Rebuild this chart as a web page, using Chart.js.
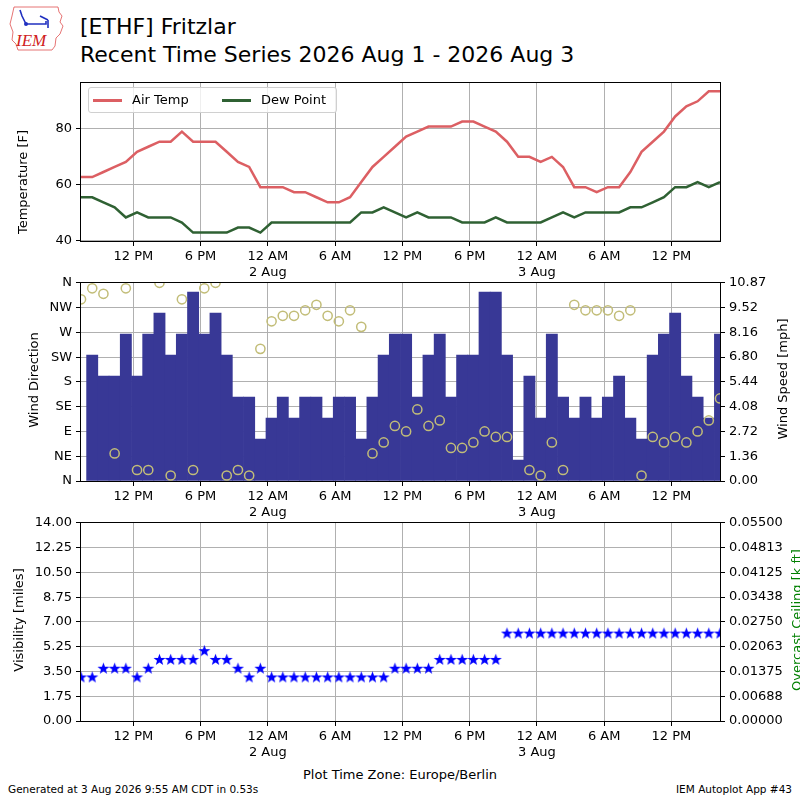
<!DOCTYPE html>
<html>
<head>
<meta charset="utf-8">
<script src="https://cdn.jsdelivr.net/npm/chart.js@4.4.1/dist/chart.umd.min.js"></script>
<style>
  body { margin: 0; width: 800px; height: 800px; overflow: hidden; background: #fff; position: relative;
         font-family: "DejaVu Sans", sans-serif; color: #000; }
  canvas { position: absolute; left: 0; }
  .t { position: absolute; white-space: nowrap; }
  .rot { transform: translate(-50%, -50%) rotate(-90deg); font-size: 13px; }
  .legend { position: absolute; left: 88px; top: 87px; width: 247px; height: 24px; border: 1px solid #d0d0d0;
            border-radius: 3px; background: rgba(255,255,255,0.8); font-size: 13px; }
  .sw { position: absolute; top: 11px; width: 29px; height: 3px; }
</style>
</head>
<body>

<svg style="position:absolute;left:6px;top:4px" width="62" height="48" viewBox="0 0 62 48">
  <path d="M8 3 L52 3 L53 8 L56 12 L54 18 L57 22 L54 30 L50 34 L49 42 L46 46 L12 46 L10 40 L6 36 L7 28 L4 20 L6 12 Z"
        fill="none" stroke="#e05050" stroke-width="0.8"/>
  <path d="M14 6 L16 12 L20 20 L40 20 L40 17 M34 12 L42 16 M42 16 L42 24" fill="none" stroke="#2030c0" stroke-width="1.6"/>
  <circle cx="20" cy="20" r="2" fill="#2030c0"/>
  <text x="10" y="42" font-family="Liberation Serif, serif" font-style="italic" font-size="17" fill="#d02020">IEM</text>
</svg>

<div class="t" style="left:80px;top:14px;font-size:22px">[ETHF] Fritzlar</div>
<div class="t" style="left:80px;top:42px;font-size:22px">Recent Time Series 2026 Aug 1 - 2026 Aug 3</div>

<canvas id="tempChart" width="800" height="210" style="top:71px"></canvas>
<canvas id="windChart" width="800" height="250" style="top:271px"></canvas>
<canvas id="visChart" width="800" height="250" style="top:511px"></canvas>

<div class="legend">
  <div class="sw" style="left:4px;background:#dc5f63"></div>
  <div class="t" style="left:43px;top:4px">Air Temp</div>
  <div class="sw" style="left:133px;background:#2f6133"></div>
  <div class="t" style="left:172px;top:4px">Dew Point</div>
</div>

<div class="t rot" style="left:22px;top:182px">Temperature [F]</div>
<div class="t rot" style="left:33px;top:380px">Wind Direction</div>
<div class="t rot" style="left:782px;top:379px">Wind Speed [mph]</div>
<div class="t rot" style="left:18px;top:620px">Visibility [miles]</div>
<div class="t rot" style="left:796px;top:620px;color:#008000">Overcast Ceiling [k ft]</div>

<div class="t" style="left:400px;top:767px;transform:translateX(-50%);font-size:13px">Plot Time Zone: Europe/Berlin</div>
<div class="t" style="left:8px;top:783px;font-size:10.5px">Generated at 3 Aug 2026 9:55 AM CDT in 0.53s</div>
<div class="t" style="right:8px;top:783px;font-size:10.5px">IEM Autoplot App #43</div>

<script>
// observation times (day of August, local Europe/Berlin time)
const obsTimes = [
  '1 07:20','1 08:20','1 09:20','1 10:20','1 11:20','1 12:20','1 13:20','1 14:20','1 15:20','1 16:20',
  '1 17:20','1 18:20','1 19:20','1 20:20','1 21:20','1 22:20','1 23:20',
  '2 00:20','2 01:20','2 02:20','2 03:20','2 04:20','2 05:20','2 06:20','2 07:20','2 08:20','2 09:20',
  '2 10:20','2 11:20','2 12:20','2 13:20','2 14:20','2 15:20','2 16:20','2 17:20','2 18:20','2 19:20',
  '2 20:20','2 21:20','2 22:20','2 23:20',
  '3 00:20','3 01:20','3 02:20','3 03:20','3 04:20','3 05:20','3 06:20','3 07:20','3 08:20','3 09:20',
  '3 10:20','3 11:20','3 12:20','3 13:20','3 14:20','3 15:20','3 16:20'
];

const airTemp = [62.6, 62.6, 64.4, 66.2, 68, 71.6, 73.4, 75.2, 75.2, 78.8, 75.2, 75.2, 75.2, 71.6, 68, 66.2, 59,
  59, 59, 57.2, 57.2, 55.4, 53.6, 53.6, 55.4, 60.8, 66.2, 69.8, 73.4, 77, 78.8, 80.6, 80.6, 80.6, 82.4, 82.4,
  80.6, 78.8, 75.2, 69.8, 69.8, 68, 69.8, 66.2, 59, 59, 57.2, 59, 59, 64.4, 71.6, 75.2, 78.8, 84.2, 87.8,
  89.6, 93.2, 93.2];

const dewPoint = [55.4, 55.4, 53.6, 51.8, 48.2, 50, 48.2, 48.2, 48.2, 46.4, 42.8, 42.8, 42.8, 42.8, 44.6, 44.6,
  42.8, 46.4, 46.4, 46.4, 46.4, 46.4, 46.4, 46.4, 46.4, 50, 50, 51.8, 50, 48.2, 50, 48.2, 48.2, 48.2, 46.4,
  46.4, 46.4, 48.2, 46.4, 46.4, 46.4, 46.4, 48.2, 50, 48.2, 50, 50, 50, 50, 51.8, 51.8, 53.6, 55.4, 59, 59,
  60.8, 59, 60.8];

// wind speed in mph
const windSpeed = [null, 6.90, 5.75, 5.75, 8.06, 5.75, 8.06, 9.21, 6.90, 8.06, 10.36, 8.06, 9.21, 6.90, 4.60,
  4.60, 2.30, 3.45, 4.60, 3.45, 4.60, 4.60, 3.45, 4.60, 4.60, 2.30, 4.60, 6.90, 8.06,
  8.06, 4.60, 6.90, 8.06, 4.60, 6.90, 6.90, 10.36, 10.36, 6.90, 1.15, 5.75, 3.45, 8.06, 4.60, 3.45, 4.60,
  3.45, 4.60, 5.75, 3.45, 2.30, 6.90, 8.06, 9.21, 5.75, 4.60, 3.45, 8.06];

// wind direction in degrees
const windDir = [330, 350, 340, 50, 350, 20, 20, 360, 10, 330, 20, 350, 360, 10, 20, 10, 240, 290, 300, 300,
  310, 320, 300, 290, 310, 280, 50, 70, 100, 90, 130, 100, 110, 60, 60, 70, 90, 80, 80, null, 20, 10, 70,
  20, 320, 310, 310, 310, 300, 310, 10, 80, 70, 80, 70, 90, 110, 150];

// visibility in miles
const visibility = [3.11, 3.11, 3.73, 3.73, 3.73, 3.11, 3.73, 4.35, 4.35, 4.35, 4.35, 4.97, 4.35, 4.35, 3.73,
  3.11, 3.73, 3.11, 3.11, 3.11, 3.11, 3.11, 3.11, 3.11, 3.11, 3.11, 3.11, 3.11, 3.73, 3.73, 3.73, 3.73,
  4.35, 4.35, 4.35, 4.35, 4.35, 4.35, 6.21, 6.21, 6.21, 6.21, 6.21, 6.21, 6.21, 6.21, 6.21, 6.21, 6.21,
  6.21, 6.21, 6.21, 6.21, 6.21, 6.21, 6.21, 6.21, 6.21];

// no overcast ceiling reported
const ceiling = [];

const tickHours = [12, 18, 24, 30, 36, 42, 48, 54, 60];
const tickLabels = ['12 PM', '6 PM', ['12 AM', '2 Aug'], '6 AM', '12 PM', '6 PM', ['12 AM', '3 Aug'], '6 AM', '12 PM'];
const tempTicks = [40, 60, 80];
const dirTicks = [0, 45, 90, 135, 180, 225, 270, 315, 360];
const dirLabels = ['N', 'NE', 'E', 'SE', 'S', 'SW', 'W', 'NW', 'N'];
const speedTicks = [0, 1.36, 2.72, 4.08, 5.44, 6.80, 8.16, 9.52, 10.87];
const visTicks = [0, 1.75, 3.5, 5.25, 7, 8.75, 10.5, 12.25, 14];
const ceilTicks = [0, 0.00688, 0.01375, 0.02063, 0.0275, 0.03438, 0.04125, 0.04813, 0.055];

const obsHours = obsTimes.map(s => {
  const [d, hm] = s.split(' ');
  const [h, m] = hm.split(':').map(Number);
  return (Number(d) - 1) * 24 + h + m / 60;
});
const xMin = obsHours[0];
const xMax = obsHours[obsHours.length - 1];
const pts = arr => obsHours.map((x, i) => ({ x: x, y: arr[i] }));

Chart.defaults.font.family = '"DejaVu Sans", sans-serif';
Chart.defaults.color = '#000';
Chart.defaults.animation = false;

const GRID = '#b0b0b0';
const tickFont = { size: 13 };

const frame = {
  id: 'frame',
  afterDraw(chart) {
    const a = chart.chartArea, c = chart.ctx;
    c.save();
    c.strokeStyle = '#000';
    c.lineWidth = 1;
    c.strokeRect(Math.round(a.left) - 0.5, Math.round(a.top) - 0.5,
      Math.round(a.right - a.left) + 1, Math.round(a.bottom - a.top) + 1);
    c.restore();
  }
};

function xAxis(z) {
  return {
    type: 'linear', min: xMin, max: xMax, offset: false, z: z,
    afterBuildTicks: s => { s.ticks = tickHours.map(v => ({ value: v })); },
    afterFit: s => { s.height = 40; },
    ticks: { callback: (v, i) => tickLabels[i], font: tickFont, padding: 3, maxRotation: 0, autoSkip: false },
    grid: { color: GRID, tickColor: '#000', tickLength: 5, offset: false },
    border: { display: false }
  };
}

function yAxis(pos, min, max, ticks, fmt, showGrid, z) {
  return {
    type: 'linear', position: pos, min: min, max: max, z: z,
    afterBuildTicks: s => { s.ticks = ticks.map(v => ({ value: v })); },
    afterFit: s => { s.width = pos === 'left' ? 81 : 80; },
    ticks: { callback: (v, i) => fmt(v, i), font: tickFont, padding: 4 },
    grid: { display: true, drawOnChartArea: showGrid, color: GRID, tickColor: '#000', tickLength: 5 },
    border: { display: false }
  };
}

// temperature panel
new Chart(document.getElementById('tempChart'), {
  type: 'line',
  data: {
    datasets: [
      { label: 'Air Temp', data: pts(airTemp), borderColor: '#dc5f63', borderWidth: 2.5, pointRadius: 0, tension: 0 },
      { label: 'Dew Point', data: pts(dewPoint), borderColor: '#2f6133', borderWidth: 2.5, pointRadius: 0, tension: 0 }
    ]
  },
  options: {
    responsive: false,
    layout: { padding: { top: 9, right: 80, left: 0, bottom: 0 } },
    plugins: { legend: { display: false }, tooltip: { enabled: false } },
    scales: {
      x: xAxis(0),
      y: yAxis('left', 39.8, 96.2, tempTicks, v => String(v), true, 0)
    }
  },
  plugins: [frame]
});

// wind panel
new Chart(document.getElementById('windChart'), {
  type: 'bar',
  data: {
    datasets: [
      { type: 'line', label: 'Wind Direction', data: pts(windDir), yAxisID: 'y', showLine: false,
        pointStyle: 'circle', pointRadius: 4.6, pointBorderWidth: 1.5, pointBorderColor: '#c2bd78',
        pointBackgroundColor: 'rgba(0,0,0,0)' },
      { type: 'bar', label: 'Wind Speed', data: pts(windSpeed), yAxisID: 'y1', backgroundColor: '#383896',
        borderWidth: 0, barPercentage: 1, categoryPercentage: 1 }
    ]
  },
  options: {
    responsive: false,
    layout: { padding: { top: 9, right: 0, left: 0, bottom: 0 } },
    plugins: { legend: { display: false }, tooltip: { enabled: false } },
    scales: {
      x: xAxis(1),
      y: yAxis('left', 0, 360, dirTicks, (v, i) => dirLabels[i], true, 1),
      y1: yAxis('right', 0, 10.87, speedTicks, v => v.toFixed(2), false, 1)
    }
  },
  plugins: [frame]
});

// five-point star marker
const star = document.createElement('canvas');
star.width = 13; star.height = 13;
(function () {
  const c = star.getContext('2d');
  c.fillStyle = '#0000ff';
  c.beginPath();
  for (let k = 0; k < 10; k++) {
    const r = k % 2 === 0 ? 6.3 : 2.6;
    const a = -Math.PI / 2 + k * Math.PI / 5;
    const px = 6.5 + r * Math.cos(a), py = 7 + r * Math.sin(a);
    if (k === 0) c.moveTo(px, py); else c.lineTo(px, py);
  }
  c.closePath();
  c.fill();
})();

// visibility panel
new Chart(document.getElementById('visChart'), {
  type: 'line',
  data: {
    datasets: [
      { label: 'Visibility', data: pts(visibility), yAxisID: 'y', showLine: false, pointStyle: star, pointRadius: 7 },
      { label: 'Ceiling', data: ceiling, yAxisID: 'y1', showLine: false, pointRadius: 0 }
    ]
  },
  options: {
    responsive: false,
    layout: { padding: { top: 9, right: 0, left: 0, bottom: 0 } },
    plugins: { legend: { display: false }, tooltip: { enabled: false } },
    scales: {
      x: xAxis(0),
      y: yAxis('left', 0, 14, visTicks, v => v.toFixed(2), true, 0),
      y1: Object.assign(yAxis('right', 0, 0.055, ceilTicks, v => v.toFixed(5), false, 0), { display: true })
    }
  },
  plugins: [frame]
});
</script>
</body>
</html>
